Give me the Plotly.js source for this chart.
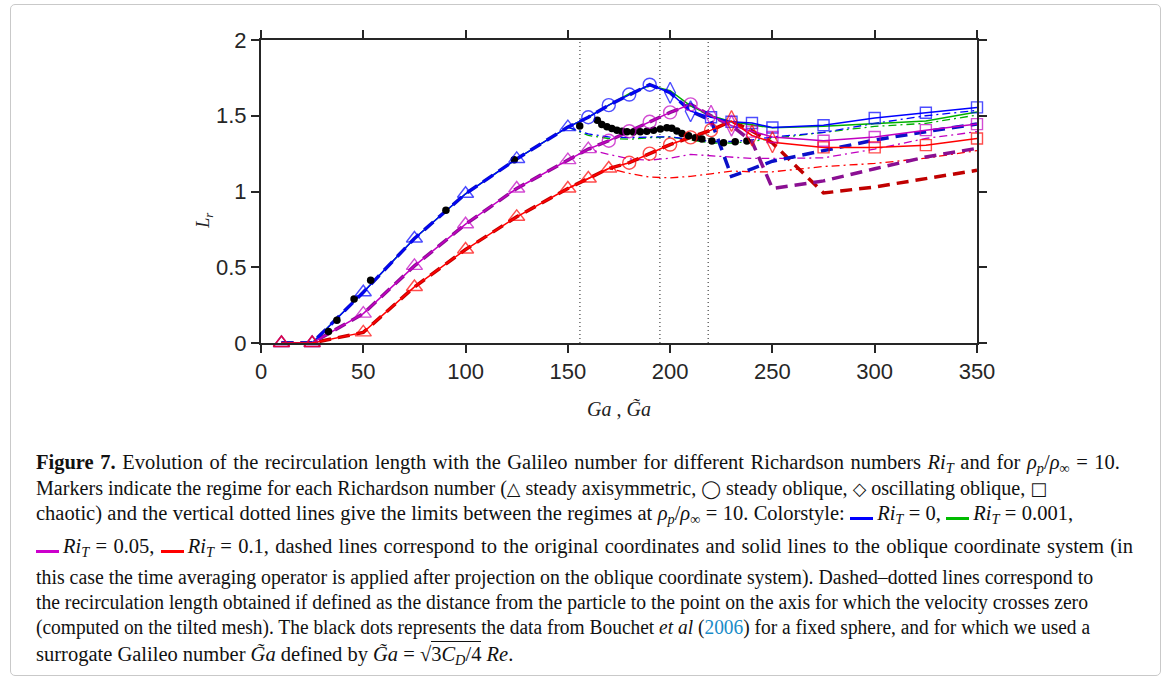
<!DOCTYPE html>
<html>
<head>
<meta charset="utf-8">
<script src="https://cdn.plot.ly/plotly-3.0.1.min.js"></script>
<style>
  html, body { margin:0; padding:0; background:#fff; }
  #wrap { position:relative; width:1171px; height:684px; overflow:hidden; background:#fff; }
  #frame { position:absolute; left:10px; top:4px; width:1151px; height:672px; border:1px solid #c9c9c9; border-radius:5px; box-sizing:border-box; }
  #plot { position:absolute; left:0; top:0; width:1171px; height:440px; }
  .cap { position:absolute; left:36px; white-space:nowrap; font-family:"Liberation Serif","DejaVu Serif",serif; font-size:20.5px; line-height:26px; height:26px; color:#111; }
  .cap > span { display:inline-block; transform-origin:0 50%; }
  .cap sub { font-size:0.7em; vertical-align:-0.3em; line-height:0; }
  .bar { display:inline-block; width:23px; height:3px; vertical-align:0px; margin-right:4px; }
  .sym { font-family:"DejaVu Sans",sans-serif; font-size:18px; }
</style>
</head>
<body>
<div id="wrap">
  <div id="frame"></div>
  <div id="plot"></div>
  <div class="cap" data-w="1084" style="top:449px"><span><b>Figure 7.</b> Evolution of the recirculation length with the Galileo number for different Richardson numbers <i>Ri<sub>T</sub></i> and for <i>ρ<sub>p</sub></i>/<i>ρ</i><sub>∞</sub> = 10.</span></div>
  <div class="cap" data-w="1011" style="top:475px"><span>Markers indicate the regime for each Richardson number (<span class="sym">△</span> steady axisymmetric, <span class="sym">◯</span> steady oblique, <span class="sym">◇</span> oscillating oblique, <span class="sym">□</span></span></div>
  <div class="cap" data-w="1037" style="top:500px"><span>chaotic) and the vertical dotted lines give the limits between the regimes at <i>ρ<sub>p</sub></i>/<i>ρ</i><sub>∞</sub> = 10. Colorstyle: <span class="bar" style="background:#0000ff"></span><i>Ri<sub>T</sub></i> = 0, <span class="bar" style="background:#00bb00"></span><i>Ri<sub>T</sub></i> = 0.001,</span></div>
  <div class="cap" data-w="1097" style="top:533px"><span><span class="bar" style="background:#cc00cc"></span><i>Ri<sub>T</sub></i> = 0.05, <span class="bar" style="background:#ff0000"></span><i>Ri<sub>T</sub></i> = 0.1, dashed lines correspond to the original coordinates and solid lines to the oblique coordinate system (in</span></div>
  <div class="cap" data-w="1057" style="top:564px"><span>this case the time averaging operator is applied after projection on the oblique coordinate system). Dashed–dotted lines correspond to</span></div>
  <div class="cap" data-w="1052" style="top:589px"><span>the recirculation length obtained if defined as the distance from the particle to the point on the axis for which the velocity crosses zero</span></div>
  <div class="cap" data-w="1054" style="top:614px"><span>(computed on the tilted mesh). The black dots represents the data from Bouchet <i>et al</i> (<span style="color:#1a8cc8">2006</span>) for a fixed sphere, and for which we used a</span></div>
  <div class="cap" style="top:641px"><span>surrogate Galileo number <i>G̃a</i> defined by <i>G̃a</i> = √<span style="border-top:1px solid #111;padding-top:1px">3<i>C<sub>D</sub></i>/4</span> <i>Re</i>.</span></div>
</div>
<script>
// ---------------- data ----------------
const Ga = [10, 25, 50, 75, 100, 125, 150, 160, 170, 180, 190, 200, 210, 220, 230, 240, 250, 275, 300, 325, 350];

// solid lines (oblique coordinate system)
const Lr_Ri0     = [0, 0, 0.335, 0.69, 0.985, 1.215, 1.425, 1.49, 1.57, 1.64, 1.705, 1.652, 1.53, 1.49, 1.46, 1.452, 1.422, 1.437, 1.485, 1.52, 1.555];
const Lr_Ri0001  = [0, 0, 0.335, 0.69, 0.985, 1.215, 1.425, 1.49, 1.57, 1.645, 1.70, 1.665, 1.565, 1.50, 1.46, 1.44, 1.42, 1.43, 1.45, 1.465, 1.525];
const Lr_Ri005   = [0, 0, 0.194, 0.509, 0.784, 1.02, 1.207, 1.28, 1.335, 1.398, 1.46, 1.522, 1.575, 1.50, 1.435, 1.395, 1.36, 1.335, 1.36, 1.405, 1.445];
const Lr_Ri01    = [0, 0, 0.07, 0.37, 0.617, 0.833, 1.02, 1.086, 1.152, 1.19, 1.25, 1.31, 1.357, 1.405, 1.465, 1.37, 1.325, 1.291, 1.291, 1.306, 1.35];

// regimes per point
const regime_Ri0  = ['axi','axi','axi','axi','axi','axi','axi','obl','obl','obl','obl','osc','osc','cha','cha','cha','cha','cha','cha','cha','cha'];
const regime_Ri005 = ['axi','axi','axi','axi','axi','axi','axi','axi','obl','obl','obl','obl','obl','osc','osc','cha','cha','cha','cha','cha','cha'];
const regime_Ri01 = ['axi','axi','axi','axi','axi','axi','axi','axi','axi','obl','obl','obl','obl','obl','osc','osc','osc','cha','cha','cha','cha'];

// dashed lines (original coordinates)
const LrOrig_Ri0   = [0, 0, 0.335, 0.69, 0.985, 1.215, 1.425, 1.49, 1.57, 1.64, 1.705, 1.652, 1.53, 1.47, 1.10, 1.15, 1.20, 1.27, 1.34, 1.395, 1.445];
const LrOrig_Ri005 = [0, 0, 0.194, 0.509, 0.784, 1.02, 1.207, 1.28, 1.335, 1.398, 1.46, 1.522, 1.575, 1.50, 1.435, 1.33, 1.02, 1.07, 1.15, 1.228, 1.285];
const LrOrig_Ri01  = [0, 0, 0.07, 0.37, 0.617, 0.833, 1.02, 1.086, 1.152, 1.19, 1.25, 1.31, 1.357, 1.405, 1.465, 1.40, 1.32, 0.99, 1.03, 1.085, 1.14];

// dash-dotted lines (zero-crossing definition)
const GaDD = [150, 160, 170, 180, 190, 200, 210, 220, 230, 240, 250, 275, 300, 325, 350];
const LrZero_Ri0    = [1.425, 1.38, 1.36, 1.355, 1.36, 1.36, 1.345, 1.33, 1.33, 1.34, 1.36, 1.39, 1.45, 1.50, 1.535];
const LrZero_Ri0001 = [1.425, 1.37, 1.35, 1.345, 1.355, 1.36, 1.34, 1.32, 1.32, 1.33, 1.35, 1.39, 1.43, 1.45, 1.505];
const LrZero_Ri005  = [1.207, 1.28, 1.245, 1.215, 1.207, 1.22, 1.245, 1.237, 1.225, 1.218, 1.218, 1.222, 1.28, 1.35, 1.395];
const LrZero_Ri01   = [1.02, 1.086, 1.152, 1.12, 1.095, 1.09, 1.10, 1.117, 1.135, 1.13, 1.13, 1.165, 1.185, 1.22, 1.27];

// Bouchet et al (2006), fixed sphere, surrogate Galileo number
const GaBouchet = [33, 37.1, 45.5, 53.6, 90.4, 123.8, 155.8, 164.4, 166.6, 169.1, 171.5, 174, 176.5, 178.9, 182, 185.4, 188.6, 191.9, 195.2, 198.4, 200.8, 203.3, 205.8, 209, 212.3, 215.5, 220.4, 226.1, 231.8, 237.5];
const LrBouchet = [0.076, 0.15, 0.29, 0.414, 0.877, 1.21, 1.432, 1.471, 1.443, 1.427, 1.416, 1.405, 1.398, 1.394, 1.393, 1.394, 1.398, 1.405, 1.412, 1.421, 1.418, 1.399, 1.383, 1.368, 1.355, 1.346, 1.333, 1.322, 1.328, 1.333];

// regime limits at rho_p/rho_inf = 10
const regimeLimits = [155.9, 195, 218.6];

const xTicks = [0, 50, 100, 150, 200, 250, 300, 350];
const yTicks = [0, 0.5, 1, 1.5, 2];
const yTickText = ['0', '0.5', '1', '1.5', '2'];

// ---------------- styles ----------------
const C = { blue:'#0000ff', blueDark:'#0a10c8', green:'#00b000', mag:'#c000c0', purple:'#8a0f92', red:'#ff0000', redDark:'#c00000' };
const SYM = { axi:'triangle-up-open', obl:'circle-open', osc:'diamond-tall-open', cha:'square-open' };
const SIZE = { axi:14, obl:13, osc:15, cha:11 };

function lineTrace(x, y, color, width, dash) {
  return { x, y, type:'scatter', mode:'lines', line:{ color, width, dash }, hoverinfo:'skip', showlegend:false, cliponaxis:false };
}
function markerTrace(x, y, reg, color) {
  return { x, y, type:'scatter', mode:'markers', showlegend:false, cliponaxis:false, hoverinfo:'skip',
    marker:{ symbol: reg.map(r => SYM[r]), size: reg.map(r => SIZE[r]), color, line:{ color, width:1.4 } } };
}
const DD = '8px,4px,2px,4px';
const DASH = '12px,7px';

const traces = [
  lineTrace(GaDD, LrZero_Ri0001, C.green, 1.3, DD),
  lineTrace(GaDD, LrZero_Ri0, C.blue, 1.3, DD),
  lineTrace(GaDD, LrZero_Ri005, C.mag, 1.3, DD),
  lineTrace(GaDD, LrZero_Ri01, C.red, 1.3, DD),
  lineTrace(Ga, LrOrig_Ri01, C.redDark, 3.5, DASH),
  lineTrace(Ga, LrOrig_Ri005, C.purple, 3.5, DASH),
  lineTrace(Ga, Lr_Ri0001, C.green, 1.5, 'solid'),
  lineTrace(Ga, LrOrig_Ri0, C.blueDark, 3.5, DASH),
  lineTrace(Ga, Lr_Ri0, C.blue, 1.5, 'solid'),
  lineTrace(Ga, Lr_Ri005, C.mag, 1.5, 'solid'),
  lineTrace(Ga, Lr_Ri01, C.red, 1.5, 'solid'),
  { x:GaBouchet, y:LrBouchet, type:'scatter', mode:'markers', showlegend:false, hoverinfo:'skip', cliponaxis:false,
    marker:{ symbol:'circle', size:7.5, color:'#000' } },
  markerTrace(Ga, Lr_Ri0, regime_Ri0, C.blue),
  markerTrace(Ga, Lr_Ri005, regime_Ri005, C.mag),
  markerTrace(Ga, Lr_Ri01, regime_Ri01, C.red)
];

const axisCommon = {
  showline:true, linecolor:'#262626', linewidth:2, mirror:'ticks',
  ticks:'outside', ticklen:8, tickwidth:2, tickcolor:'#262626',
  showgrid:false, zeroline:false,
  tickfont:{ family:'"Liberation Sans", Arial, sans-serif', size:22, color:'#262626' }
};

const layout = {
  width:1171, height:440,
  margin:{ l:260.7, r:194.3, t:40, b:97.3 },
  paper_bgcolor:'rgba(0,0,0,0)', plot_bgcolor:'#fff',
  xaxis:Object.assign({}, axisCommon, {
    range:[0, 350], tickmode:'array', tickvals:xTicks, ticktext:xTicks.map(String),
    automargin:false,
    title:{ text:'<i>Ga</i> , <i>G̃a</i>', font:{ family:'"Liberation Serif", serif', size:20, color:'#222' }, standoff:19 }
  }),
  yaxis:Object.assign({}, axisCommon, {
    range:[0, 2], tickmode:'array', tickvals:yTicks, ticktext:yTickText, automargin:false
  }),
  shapes: regimeLimits.map(v => ({ type:'line', xref:'x', yref:'paper', x0:v, x1:v, y0:0, y1:1,
    line:{ color:'#444', width:1.2, dash:'1px,3px' }, layer:'below' })),
  annotations:[{
    text:'<i>L<sub>r</sub></i>', xref:'paper', yref:'paper', x:-0.079, y:0.405,
    xanchor:'center', yanchor:'middle', showarrow:false, textangle:-90,
    font:{ family:'"Liberation Serif", serif', size:18, color:'#222' }
  }]
};

Plotly.newPlot('plot', traces, layout, { staticPlot:true, displayModeBar:false });

// fit caption lines to the reference line widths
function fitLines() {
  document.querySelectorAll('.cap[data-w]').forEach(div => {
    const span = div.firstElementChild;
    span.style.wordSpacing = '0px';
    span.style.transform = 'none';
    const natural = span.getBoundingClientRect().width;
    const target = parseFloat(div.dataset.w);
    const spaces = (span.textContent.match(/ /g) || []).length;
    if (natural < target && spaces > 0) {
      span.style.wordSpacing = ((target - natural) / spaces).toFixed(2) + 'px';
    } else if (natural > target) {
      span.style.transform = 'scaleX(' + (target / natural).toFixed(4) + ')';
    }
  });
}
if (document.fonts && document.fonts.ready) document.fonts.ready.then(fitLines); else fitLines();
fitLines();
</script>
</body>
</html>
